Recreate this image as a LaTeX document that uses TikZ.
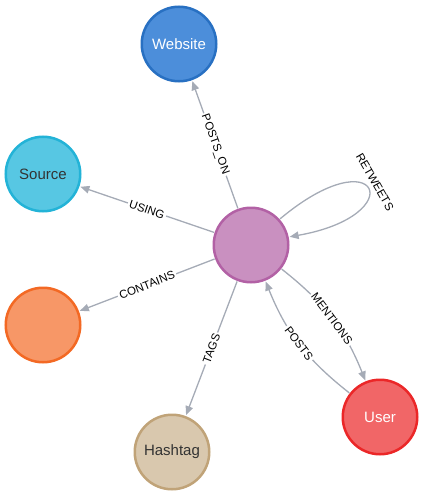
\documentclass[tikz,border=0pt]{standalone}
\usepackage{fontspec}
\setmainfont{Liberation Sans}
\usepackage{tikz}
\usetikzlibrary{arrows.meta}
\definecolor{edgegray}{HTML}{A5ABB6}
\definecolor{webfill}{HTML}{4C8EDA}
\definecolor{webline}{HTML}{2870C2}
\definecolor{srcfill}{HTML}{57C7E3}
\definecolor{srcline}{HTML}{23B3D7}
\definecolor{twfill}{HTML}{C990C0}
\definecolor{twline}{HTML}{B261A5}
\definecolor{orfill}{HTML}{F79767}
\definecolor{orline}{HTML}{F36924}
\definecolor{hashfill}{HTML}{D9C8AE}
\definecolor{hashline}{HTML}{C0A378}
\definecolor{userfill}{HTML}{F16667}
\definecolor{userline}{HTML}{EB2728}
\definecolor{textdark}{HTML}{333333}

\begin{document}
\begin{tikzpicture}
    [x=1pt,y=1pt,
     ent/.style={circle,line width=2.5pt,minimum size=74.5pt,inner sep=0pt,
       font=\fontsize{15}{17}\selectfont},
     rel/.style={draw=edgegray,line width=1.3pt,
       -{Triangle[length=9pt,width=7.5pt]},shorten >=1pt,shorten <=0.5pt},
     lbl/.style={fill=white,inner sep=1.8pt,sloped,
       font=\fontsize{11.5}{13}\selectfont}]
\useasboundingbox (0,0) rectangle (424,-495);
%the nodes
\node[ent,fill=webfill,draw=webline,text=white] (website) at (179,-44) {Website};
\node[ent,fill=srcfill,draw=srcline,text=textdark] (source) at (43,-174) {Source};
\node[ent,fill=twfill,draw=twline] (tweet) at (251,-245) {};
\node[ent,fill=orfill,draw=orline] (link) at (43,-325) {};
\node[ent,fill=hashfill,draw=hashline,text=textdark] (hashtag) at (172,-452) {Hashtag};
\node[ent,fill=userfill,draw=userline,text=white] (user) at (380,-417) {User};

%straight relations
\draw[rel] (tweet) -- (website) node[lbl,midway] {POSTS\_ON};
\draw[rel] (tweet) -- (source) node[lbl,midway] {USING};
\draw[rel] (tweet) -- (link) node[lbl,midway] {CONTAINS};
\draw[rel] (tweet) -- (hashtag) node[lbl,midway] {TAGS};

%the two bent ones
\draw[rel] (tweet) to[bend left=15] node[lbl,midway] {MENTIONS} (user);
\draw[rel] (user) to[bend left=15] node[lbl,midway] {POSTS} (tweet);

%self loop, label set beside it
\draw[rel] (tweet.42) .. controls +(40:130) and +(10:125) .. (tweet.12);
\node[rotate=-60,inner sep=0pt,font=\fontsize{11.5}{13}\selectfont] (rtlabel) at (375,-182) {RETWEETS};
\end{tikzpicture}
\end{document}
